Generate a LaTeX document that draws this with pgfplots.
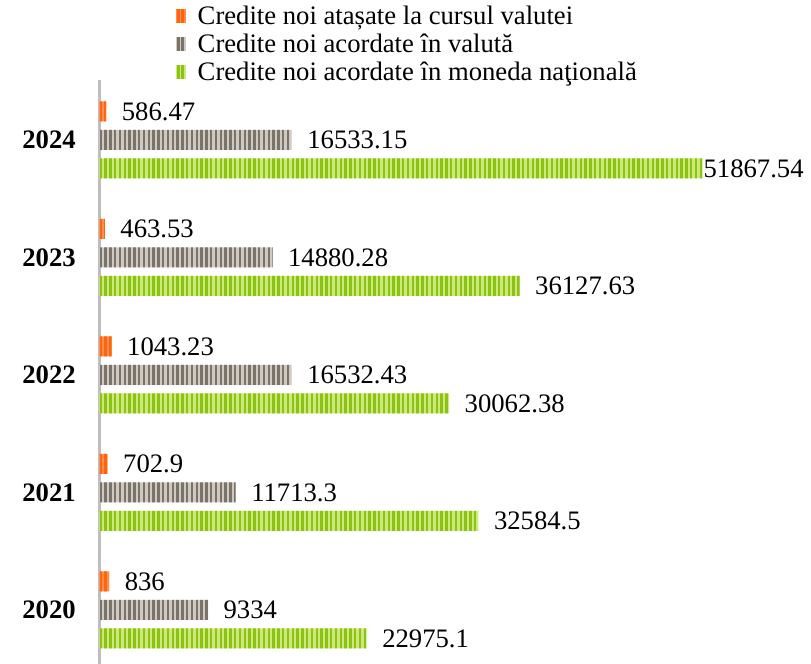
\documentclass[border=0pt]{standalone}
\usepackage{fontspec}
\setmainfont{Liberation Serif}
\usepackage{pgfplots}
\usepackage{pgfplotstable}
\pgfplotsset{compat=1.18}
\usetikzlibrary{patterns.meta}
\definecolor{orL}{HTML}{FF8E48}
\definecolor{orD}{HTML}{FF6410}
\definecolor{grL}{HTML}{CFC9C2}
\definecolor{grD}{HTML}{7A736A}
\definecolor{gnL}{HTML}{CBEA78}
\definecolor{gnD}{HTML}{8CC218}
\definecolor{axg}{HTML}{BEBEBE}
\pgfplotstableread{
y x lab s
0 836 836 11.5
1 702.9 702.9 11.5
2 1043.23 1043.23 11.5
3 463.53 463.53 11.5
4 586.47 586.47 11.5
}\tabOr
\pgfplotstableread{
y x lab s
0 9334 9334 11.5
1 11713.3 11713.3 11.5
2 16532.43 16532.43 11.5
3 14880.28 14880.28 11.5
4 16533.15 16533.15 11.5
}\tabGr
\pgfplotstableread{
y x lab s
0 22975.1 22975.1 11.5
1 32584.5 32584.5 11.5
2 30062.38 30062.38 11.5
3 36127.63 36127.63 11.5
4 51867.54 51867.54 0.5
}\tabGn
\newcommand{\legsq}[2]{\fill[#1] (0pt,-2.8pt) rectangle (6.5pt,6.7pt);
  \fill[#2] (0.5pt,-2.8pt) rectangle (2.1pt,6.7pt);
  \fill[#2] (3.7pt,-2.8pt) rectangle (5.3pt,6.7pt);}
\begin{document}
\begin{tikzpicture}
\path[use as bounding box] (0,0) rectangle (608.25pt,498pt);
\begin{axis}[
  at={(74.6pt,0pt)}, anchor=south west,
  scale only axis, width=533.6pt, height=438pt,
  xbar, bar width=15pt,
  xmin=0, xmax=61178, ymin=-0.46, ymax=4.51,
  hide x axis,
  axis y line*=left,
  y axis line style={draw=axg, line width=2.25pt, -},
  ytick={0,1,2,3,4},
  yticklabels={2020,2021,2022,2023,2024},
  major tick length=0pt,
  yticklabel style={font=\bfseries\fontsize{20}{24}\selectfont, inner sep=0pt, anchor=east, xshift=-17.6pt},
  point meta=explicit symbolic,
  nodes near coords,
  visualization depends on={\thisrow{s} \as \lshift},
  every node near coord/.append style={font=\fontsize{20}{24}\selectfont, anchor=west, inner sep=0pt, xshift=\lshift pt, text=black},
  clip=false,
  legend cell align=left,
  legend style={at={(axis description cs:0.107,1.128)}, anchor=north west, draw=none, fill=none,
    inner sep=0pt, row sep=2pt, font=\fontsize{20}{24}\selectfont,
    nodes={inner sep=0pt, text height=14pt, text depth=5pt},
    /tikz/every odd column/.append style={column sep=9.5pt}},
]
\addlegendimage{legend image code/.code={\legsq{orL}{orD}}}
\addlegendentry{Credite noi atașate la cursul valutei}
\addlegendimage{legend image code/.code={\legsq{grL}{grD}}}
\addlegendentry{Credite noi acordate în valută}
\addlegendimage{legend image code/.code={\legsq{gnL}{gnD}}}
\addlegendentry{Credite noi acordate în moneda naţională}
\addplot[forget plot, draw=none, fill=orL, bar shift=21.4pt,
  postaction={pattern={Lines[angle=90,distance=3.6pt,line width=1.8pt]}, pattern color=orD}]
  table[x=x, y=y, meta=lab] {\tabOr};
\addplot[forget plot, draw=none, fill=grL, bar shift=0pt,
  postaction={pattern={Lines[angle=90,distance=3.6pt,line width=1.8pt]}, pattern color=grD}]
  table[x=x, y=y, meta=lab] {\tabGr};
\addplot[forget plot, draw=none, fill=gnL, bar shift=-21.4pt,
  postaction={pattern={Lines[angle=90,distance=3.6pt,line width=1.8pt]}, pattern color=gnD}]
  table[x=x, y=y, meta=lab] {\tabGn};
\end{axis}
\end{tikzpicture}
\end{document}
